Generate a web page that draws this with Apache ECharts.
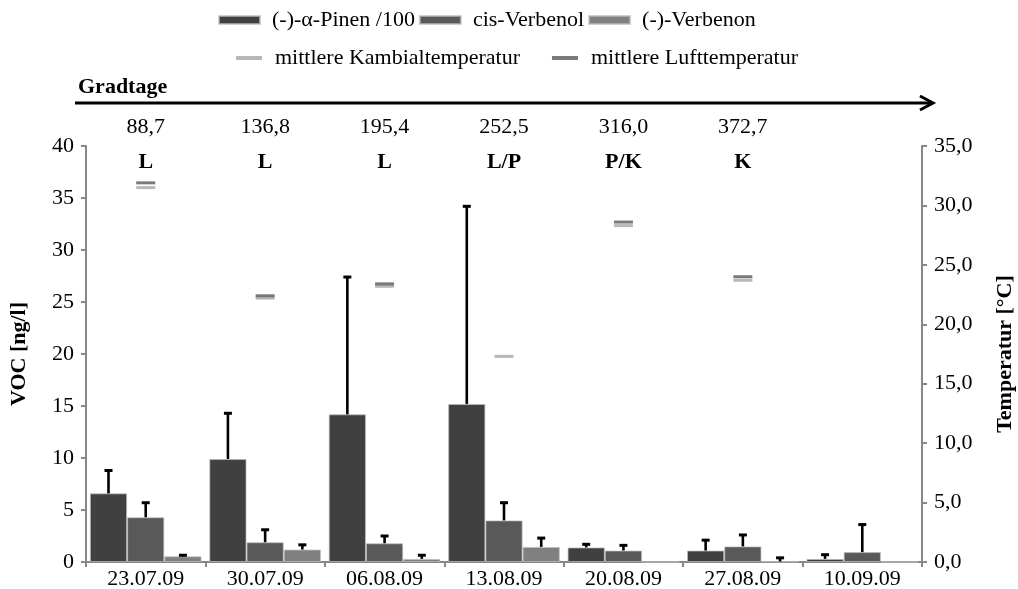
<!DOCTYPE html>
<html>
<head>
<meta charset="utf-8">
<script src="https://cdn.jsdelivr.net/npm/echarts@6/dist/echarts.min.js"></script>
<style>
  html, body { margin: 0; padding: 0; background: #fff; }
  #chart { width: 1018px; height: 589px; }
</style>
</head>
<body>
<div id="chart"></div>
<script>
// Sampling dates
const categories = ['23.07.09', '30.07.09', '06.08.09', '13.08.09', '20.08.09', '27.08.09', '10.09.09'];
// Degree days and development stage per date
const gradtage = ['88,7', '136,8', '195,4', '252,5', '316,0', '372,7', ''];
const stadium = ['L', 'L', 'L', 'L/P', 'P/K', 'K', ''];

// VOC means [ng/l] and standard deviations
const pinen = [6.6, 9.9, 14.2, 15.2, 1.4, 1.1, 0.3];
const pinenSd = [2.2, 4.4, 13.2, 19.0, 0.3, 1.0, 0.4];
const verbenol = [4.3, 1.9, 1.8, 4.0, 1.1, 1.5, 0.95];
const verbenolSd = [1.4, 1.2, 0.7, 1.7, 0.5, 1.1, 2.65];
const verbenon = [0.55, 1.2, 0.3, 1.45, 0, 0.05, 0];
const verbenonSd = [0.1, 0.45, 0.35, 0.85, null, 0.35, null];

// Mean temperatures [°C]
const kambial = [31.5, 22.2, 23.2, 17.3, 28.3, 23.7, null];
const luft = [31.9, 22.4, 23.4, null, 28.6, 24.0, null];

const FONT = "'Liberation Serif', 'Times New Roman', serif";
const AXIS_GRAY = '#878787';
const CAT_GAP = 0.065;

function errorData(vals, sds) {
  const out = [];
  vals.forEach((v, i) => {
    if (sds[i] != null) out.push([i, v, v + sds[i]]);
  });
  return out;
}

function errorSeries(vals, sds, slot) {
  return {
    type: 'custom',
    xAxisIndex: 0,
    yAxisIndex: 0,
    z: 5,
    silent: true,
    data: errorData(vals, sds),
    encode: { x: 0, y: [1, 2] },
    renderItem: function (params, api) {
      const idx = api.value(0);
      const base = api.coord([idx, api.value(1)]);
      const top = api.coord([idx, api.value(2)]);
      const band = api.size([1, 0])[0];
      const barW = band * (1 - CAT_GAP) / 3;
      const x = base[0] + (slot - 1) * barW;
      const cap = 4;
      return {
        type: 'group',
        children: [
          { type: 'line', shape: { x1: x, y1: base[1], x2: x, y2: top[1] }, style: { stroke: '#000', lineWidth: 2.6 } },
          { type: 'line', shape: { x1: x - cap, y1: top[1], x2: x + cap, y2: top[1] }, style: { stroke: '#000', lineWidth: 3 } }
        ]
      };
    }
  };
}

const barStyle = (color) => ({ color: color, borderColor: 'rgba(190,190,190,0.7)', borderWidth: 1 });

const chart = echarts.init(document.getElementById('chart'), null, { renderer: 'canvas' });

chart.setOption({
  animation: false,
  backgroundColor: '#fff',
  textStyle: { fontFamily: FONT, color: '#000' },
  grid: { left: 86, right: 96, top: 146, bottom: 27, containLabel: false, outerBoundsMode: 'none' },
  legend: [
    {
      left: 218, top: 9, padding: 0,
      itemWidth: 41, itemHeight: 8, itemGap: 4,
      icon: 'rect',
      textStyle: { fontFamily: FONT, fontSize: 22, color: '#000', padding: [0, 0, 0, 7] },
      data: ['(-)-α-Pinen /100', 'cis-Verbenol', '(-)-Verbenon']
    },
    {
      left: 236, top: 47, padding: 0,
      itemWidth: 26, itemHeight: 4, itemGap: 32,
      icon: 'rect',
      textStyle: { fontFamily: FONT, fontSize: 22, color: '#000', padding: [0, 0, 0, 8] },
      data: ['mittlere Kambialtemperatur', 'mittlere Lufttemperatur']
    }
  ],
  xAxis: [
    {
      type: 'category',
      data: categories,
      position: 'bottom',
      axisLine: { lineStyle: { color: AXIS_GRAY, width: 2 } },
      axisTick: { show: true, length: 5, lineStyle: { color: AXIS_GRAY, width: 2 } },
      axisLabel: { fontFamily: FONT, fontSize: 22, color: '#000', margin: 6 }
    },
    {
      type: 'category',
      data: categories,
      position: 'top',
      offset: -34,
      axisLine: { show: false },
      axisTick: { show: false },
      axisLabel: {
        margin: 0,
        interval: 0,
        formatter: function (v, i) {
          return '{g|' + gradtage[i] + '}\n{s|' + stadium[i] + '}';
        },
        rich: {
          g: { fontFamily: FONT, fontSize: 22, color: '#000', lineHeight: 35 },
          s: { fontFamily: FONT, fontSize: 22, fontWeight: 'bold', color: '#000', lineHeight: 35 }
        }
      }
    }
  ],
  yAxis: [
    {
      type: 'value',
      min: 0, max: 40, interval: 5,
      name: 'VOC [ng/l]',
      nameLocation: 'middle',
      nameRotate: 90,
      nameGap: 56,
      nameTextStyle: { fontFamily: FONT, fontSize: 22, fontWeight: 'bold', color: '#000' },
      axisLine: { show: true, lineStyle: { color: AXIS_GRAY, width: 2 } },
      axisTick: { show: true, length: 5, lineStyle: { color: AXIS_GRAY, width: 2 } },
      splitLine: { show: false },
      axisLabel: { fontFamily: FONT, fontSize: 22, color: '#000', margin: 12 }
    },
    {
      type: 'value',
      min: 0, max: 35, interval: 5,
      position: 'right',
      name: 'Temperatur [°C]',
      nameLocation: 'middle',
      nameRotate: 90,
      nameGap: 72,
      nameTextStyle: { fontFamily: FONT, fontSize: 22, fontWeight: 'bold', color: '#000' },
      axisLine: { show: true, lineStyle: { color: AXIS_GRAY, width: 2 } },
      axisTick: { show: true, length: 5, lineStyle: { color: AXIS_GRAY, width: 2 } },
      splitLine: { show: false },
      axisLabel: {
        fontFamily: FONT, fontSize: 22, color: '#000', margin: 12,
        formatter: (v) => v.toFixed(1).replace('.', ',')
      }
    }
  ],
  series: [
    {
      name: '(-)-α-Pinen /100', type: 'bar', data: pinen,
      barGap: '0%', barCategoryGap: (CAT_GAP * 100) + '%',
      itemStyle: barStyle('#404040')
    },
    {
      name: 'cis-Verbenol', type: 'bar', data: verbenol,
      itemStyle: barStyle('#595959')
    },
    {
      name: '(-)-Verbenon', type: 'bar', data: verbenon,
      itemStyle: barStyle('#808080')
    },
    errorSeries(pinen, pinenSd, 0),
    errorSeries(verbenol, verbenolSd, 1),
    errorSeries(verbenon, verbenonSd, 2),
    {
      name: 'mittlere Kambialtemperatur', type: 'scatter', yAxisIndex: 1,
      data: kambial, symbol: 'rect', symbolSize: [19, 3], z: 6,
      itemStyle: { color: '#a6a6a6' }
    },
    {
      name: 'mittlere Lufttemperatur', type: 'scatter', yAxisIndex: 1,
      data: luft, symbol: 'rect', symbolSize: [19, 3], z: 7,
      itemStyle: { color: '#595959' }
    }
  ],
  graphic: [
    {
      type: 'text', left: 78, top: 76,
      style: { text: 'Gradtage', font: "bold 22px " + FONT, fill: '#000' }
    },
    {
      type: 'line',
      shape: { x1: 75, y1: 103, x2: 931, y2: 103 },
      style: { stroke: '#000', lineWidth: 3 }
    },
    {
      type: 'polyline',
      shape: { points: [[920, 96], [933, 103], [920, 110]] },
      style: { stroke: '#000', lineWidth: 3, fill: null }
    }
  ]
});
</script>
</body>
</html>
